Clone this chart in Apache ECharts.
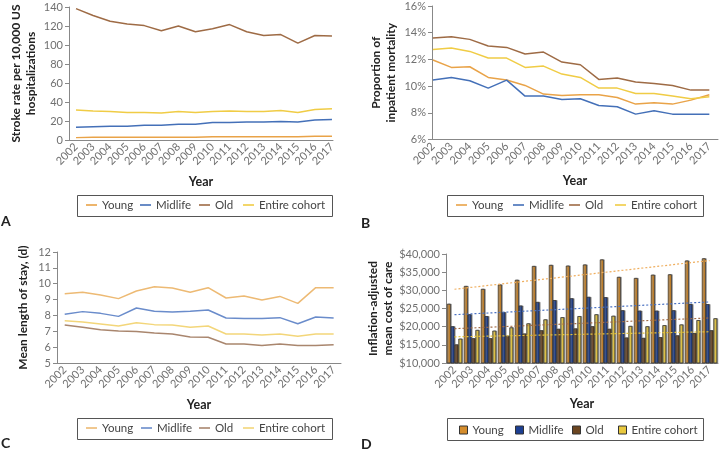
<!DOCTYPE html>
<html><head><meta charset="utf-8">
<script src="https://cdn.jsdelivr.net/npm/echarts@6/dist/echarts.min.js"></script>
<style>html,body{margin:0;padding:0;background:#fff}#c{width:719px;height:453px}</style>
</head><body><div id="c"></div>
<script>
const years = [2002,2003,2004,2005,2006,2007,2008,2009,2010,2011,2012,2013,2014,2015,2016,2017];
const yearLabels = years.map(String);
const groups = ['Young','Midlife','Old','Entire cohort'];

// A: stroke rate per 10,000 US hospitalizations
const strokeYoung = [2.5,3,3,3,3,3,3,3,3.5,3.5,3.5,3.5,3.5,3.5,4,4];
const strokeMidlife = [13.5,14,14.5,14.5,15.5,15.5,16.5,16.5,18.5,18.5,19,19,19.5,19,21,21.5];
const strokeOld = [138.3,131,125,122,120.4,115,120,114,117,121.5,114,110,111,102,110,109.5];
const strokeEntire = [31.5,30.5,30,29,29,28.5,30,29,30,30.5,30,30,31,29,32,33];

// B: proportion of inpatient mortality (%)
const mortYoung = [11.95,11.4,11.45,10.65,10.45,10.05,9.4,9.3,9.35,9.35,9.15,8.65,8.75,8.65,8.95,9.35];
const mortMidlife = [10.45,10.65,10.4,9.85,10.45,9.25,9.25,9.0,9.05,8.55,8.45,7.9,8.15,7.9,7.9,7.9];
const mortOld = [13.6,13.7,13.5,13.0,12.9,12.4,12.55,11.8,11.6,10.5,10.6,10.3,10.2,10.05,9.7,9.7];
const mortEntire = [12.75,12.85,12.6,12.1,12.1,11.4,11.5,10.9,10.65,9.85,9.85,9.45,9.45,9.25,9.05,9.2];

// C: mean length of stay (days)
const losYoung = [9.37,9.46,9.29,9.06,9.54,9.81,9.73,9.46,9.75,9.1,9.23,8.97,9.2,8.76,9.75,9.75];
const losMidlife = [8.07,8.24,8.13,7.94,8.47,8.26,8.22,8.26,8.34,7.84,7.8,7.8,7.86,7.48,7.9,7.84];
const losOld = [7.4,7.25,7.1,7.02,6.98,6.89,6.83,6.64,6.62,6.2,6.2,6.11,6.2,6.11,6.11,6.15];
const losEntire = [7.67,7.59,7.46,7.33,7.54,7.42,7.4,7.25,7.33,6.83,6.83,6.77,6.83,6.68,6.83,6.83];

// D: inflation-adjusted mean cost of care ($)
const costYoung = [26300,31200,30400,31600,32900,36700,37000,36800,37100,38500,33700,33400,34300,34400,38200,38800];
const costMidlife = [20100,23400,22900,24000,25800,26800,27300,27800,28200,28100,24500,24400,24400,24500,26200,26200];
const costOld = [15100,16800,16800,17500,18100,19000,19400,19500,20100,19400,17000,16900,17100,17600,18200,19000];
const costEntire = [16700,19100,18900,19800,20900,22000,22600,22900,23400,23000,20200,20100,20400,20600,21800,22300];
// D: trend line start (2002) and end (2017) values
const trendYoung = [30300,38200];
const trendMidlife = [23300,26800];
const trendOld = [19450,22400];
const trendEntire = [17200,18600];

const FONT = 'Lato';
const lineColors = {Young:'#E9A348', Midlife:'#4470B8', Old:'#9E6B45', 'Entire cohort':'#F0CC45'};
const lineColorsC = {Young:'#EDBA74', Midlife:'#6A8CCB', Old:'#A9866E', 'Entire cohort':'#F3D67A'};
const barColors = {Young:'#D48C2C', Midlife:'#1C3F92', Old:'#6B4520', 'Entire cohort':'#E8C83E'};
const trendColors = {Young:'#EFAE5E', Midlife:'#4B72C2', Old:'#A26C46', 'Entire cohort':'#E5C23A'};

function pairs(arr){ return years.map((y,i)=>[y, arr[i]]); }
function trend(t){ return years.map((y,i)=> i===0 ? t[0] : (i===years.length-1 ? t[1] : null)); }

const tickLabel = {color:'#707070', fontFamily:FONT, fontSize:11};
const axisLine = {show:true, lineStyle:{color:'#888', width:1}};
const nameStyle = {color:'#222', fontFamily:FONT, fontSize:12, fontWeight:'bold', lineHeight:15};

function valueX(idx, min, max){
  return {type:'value', gridIndex:idx, min:min, max:max, axisLine:axisLine,
    splitLine:{show:false}, axisTick:{show:false, customValues:years},
    axisLabel:Object.assign({rotate:45, margin:5, customValues:years, formatter:v=>String(v)}, tickLabel),
    name:'Year', nameLocation:'middle', nameGap:34, nameTextStyle:Object.assign({}, nameStyle, {fontSize:12.5})};
}
function yAx(idx, min, max, interval, name, gap, fmt){
  return {type:'value', gridIndex:idx, min:min, max:max, interval:interval,
    axisLine:axisLine, axisTick:{show:true, length:4, lineStyle:{color:'#888'}},
    splitLine:{show:false}, axisLabel:Object.assign({margin:6, formatter:fmt}, tickLabel),
    name:name, nameLocation:'middle', nameGap:gap, nameRotate:90, nameTextStyle:Object.assign({}, nameStyle)};
}

const series = [];
function addLines(idx, arrs, colors){
  groups.forEach((g,k)=>{
    series.push({name:g, type:'line', xAxisIndex:idx, yAxisIndex:idx, data:pairs(arrs[k]),
      symbol:'none', lineStyle:{width:1.5, color:colors[g]}, itemStyle:{color:colors[g]}, z:3});
  });
}
addLines(0, [strokeYoung,strokeMidlife,strokeOld,strokeEntire], lineColors);
addLines(1, [mortYoung,mortMidlife,mortOld,mortEntire], lineColors);
addLines(2, [losYoung,losMidlife,losOld,losEntire], lineColorsC);
[costYoung,costMidlife,costOld,costEntire].forEach((arr,k)=>{
  const g = groups[k];
  series.push({name:g, type:'bar', xAxisIndex:3, yAxisIndex:3, data:arr, barGap:'0%', barCategoryGap:'10%',
    itemStyle:{color:barColors[g], borderColor:'#2a2a2a', borderWidth:0.7, shadowColor:'rgba(130,130,130,0.9)', shadowOffsetX:1, shadowOffsetY:0, shadowBlur:0}, z:2});
});
[trendYoung,trendMidlife,trendOld,trendEntire].forEach((t,k)=>{
  const g = groups[k];
  series.push({name:g+' trend', type:'line', xAxisIndex:3, yAxisIndex:3, data:trend(t), connectNulls:true,
    symbol:'none', lineStyle:{width:1.2, type:[2,2], color:trendColors[g]}, z:4, silent:true});
});

// one legend component per item so each item sits where it does in the figure
const legends = [];
const legendText = {color:'#444', fontFamily:FONT, fontSize:11.5};
function lineLegend(lefts, top, colors){
  groups.forEach((g,k)=>{
    legends.push({left:lefts[k], top:top, itemWidth:11, itemHeight:1.6, icon:'rect', padding:0,
      textStyle:legendText, data:[{name:g, itemStyle:{color:colors[g]}}]});
  });
}
lineLegend([86,140,199,243], 199, lineColors);
lineLegend([456,513,569,615], 199, lineColors);
lineLegend([86,141,199,243], 422, lineColorsC);
[459,515,572,618].forEach((l,k)=>{
  const g = groups[k];
  legends.push({left:l, top:424, itemWidth:8, itemHeight:8, icon:'rect', padding:0, itemGap:0,
    textStyle:legendText, data:[{name:g, itemStyle:{color:barColors[g], borderColor:'#333', borderWidth:1}}]});
});

const option = {
  animation:false,
  grid:[
    {left:69, top:7, width:264, height:133},
    {left:432, top:6, width:286, height:133.5},
    {left:57, top:252, width:284, height:111},
    {left:446, top:254, width:272, height:109}
  ],
  xAxis:[
    valueX(0, 2001.59, 2017.06),
    valueX(1, 2001.95, 2017.47),
    valueX(2, 2001.57, 2017.41),
    {type:'category', gridIndex:3, data:yearLabels, boundaryGap:true, axisLine:axisLine,
      axisTick:{show:false}, axisLabel:Object.assign({rotate:45, margin:5, interval:0}, tickLabel),
      name:'Year', nameLocation:'middle', nameGap:33, nameTextStyle:Object.assign({}, nameStyle, {fontSize:12.5})}
  ],
  yAxis:[
    yAx(0, 0, 140, 20, 'Stroke rate per 10,000 US\nhospitalizations', 30, v=>v),
    yAx(1, 6, 16, 2, 'Proportion of\ninpatient mortality', 33, v=>v+'%'),
    yAx(2, 5, 12, 1, 'Mean length of stay, (d)', 26, v=>v),
    yAx(3, 10000, 40000, 5000, 'Inflation-adjusted\nmean cost of care', 48, v=>'$'+v.toLocaleString('en-US'))
  ],
  legend:legends,
  graphic:[
    {type:'rect', shape:{x:77.5, y:195.5, width:255, height:21}, style:{fill:'none', stroke:'#555', lineWidth:1}, silent:true},
    {type:'rect', shape:{x:447.5, y:195.5, width:256, height:21}, style:{fill:'none', stroke:'#555', lineWidth:1}, silent:true},
    {type:'rect', shape:{x:77.5, y:418.5, width:255, height:21}, style:{fill:'none', stroke:'#555', lineWidth:1}, silent:true},
    {type:'rect', shape:{x:447.5, y:418.5, width:256, height:22}, style:{fill:'none', stroke:'#555', lineWidth:1}, silent:true},
    {type:'text', left:1, top:214, style:{text:'A', font:'bold 14px Lato', fill:'#222'}},
    {type:'text', left:361, top:216, style:{text:'B', font:'bold 14px Lato', fill:'#222'}},
    {type:'text', left:1, top:436, style:{text:'C', font:'bold 14px Lato', fill:'#222'}},
    {type:'text', left:361, top:437, style:{text:'D', font:'bold 14px Lato', fill:'#222'}}
  ],
  series:series
};
const chart = echarts.init(document.getElementById('c'), null, {renderer:'canvas'});
chart.setOption(option);
</script></body></html>
